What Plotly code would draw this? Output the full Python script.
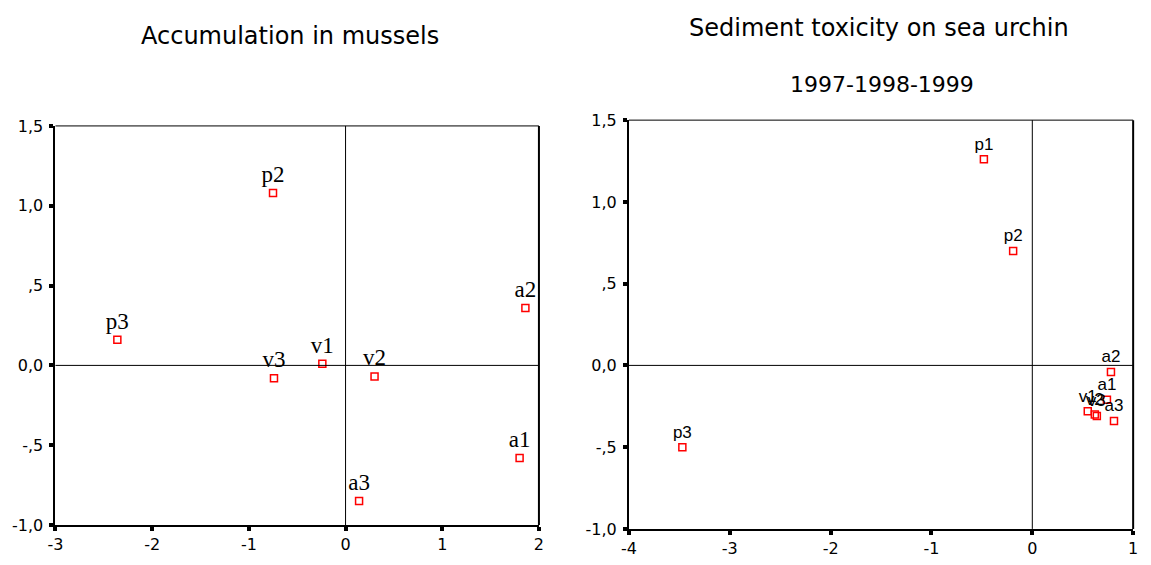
import plotly.graph_objects as go

W, H = 1151, 565

# Left panel: accumulation in mussels
mus_labels = ["p2", "p3", "v3", "v1", "v2", "a2", "a1", "a3"]
mus_x = [-0.75, -2.36, -0.74, -0.24, 0.30, 1.86, 1.80, 0.14]
mus_y = [1.08, 0.16, -0.08, 0.01, -0.07, 0.36, -0.58, -0.85]

# Right panel: sediment toxicity on sea urchin
urc_labels = ["p1", "p2", "a2", "a1", "a3", "v1", "v2", "v3", "p3"]
urc_x = [-0.48, -0.19, 0.78, 0.74, 0.81, 0.55, 0.62, 0.64, -3.47]
urc_y = [1.26, 0.70, -0.04, -0.21, -0.34, -0.28, -0.30, -0.31, -0.50]

y_tickvals = [1.5, 1.0, 0.5, 0.0, -0.5, -1.0]
y_ticktext = ["1,5", "1,0", ",5", "0,0", "-,5", "-1,0"]
mus_xticks = [-3, -2, -1, 0, 1, 2]
urc_xticks = [-4, -3, -2, -1, 0, 1]

fig = go.Figure()

fig.add_trace(go.Scatter(
    x=mus_x, y=mus_y, text=mus_labels, mode="markers+text",
    textposition="top center",
    textfont=dict(family="Liberation Serif", size=23, color="black"),
    marker=dict(symbol="square-open", size=7, color="red", line=dict(width=1.5, color="red")),
    xaxis="x", yaxis="y", showlegend=False, cliponaxis=False,
))
fig.add_trace(go.Scatter(
    x=urc_x, y=urc_y, text=urc_labels, mode="markers+text",
    textposition="top center",
    textfont=dict(family="Liberation Sans", size=17, color="black"),
    marker=dict(symbol="square-open", size=7, color="red", line=dict(width=1.5, color="red")),
    xaxis="x2", yaxis="y2", showlegend=False, cliponaxis=False,
))

def px_x(p):
    return p / W

def px_y(p):
    return 1 - p / H

axis_common = dict(
    showgrid=False, zeroline=False, showline=True, linecolor="black", linewidth=2,
    ticks="outside", ticklen=4, tickwidth=4, tickcolor="black",
    tickfont=dict(family="DejaVu Sans", size=16, color="black"),
    fixedrange=True,
)

fig.update_layout(
    width=W, height=H,
    margin=dict(l=0, r=0, t=0, b=0),
    paper_bgcolor="white", plot_bgcolor="white",
    xaxis=dict(domain=[px_x(48), px_x(537)], range=[-3, 2], tickvals=mus_xticks,
               ticktext=[str(v) for v in mus_xticks], anchor="y", **axis_common),
    yaxis=dict(domain=[px_y(534), px_y(121)], range=[-1, 1.5], tickvals=y_tickvals,
               ticktext=y_ticktext, anchor="x", ticklabelstandoff=3, **axis_common),
    xaxis2=dict(domain=[px_x(628), px_x(1138)], range=[-4, 1], tickvals=urc_xticks,
                ticktext=[str(v) for v in urc_xticks], anchor="y2", **axis_common),
    yaxis2=dict(domain=[px_y(538), px_y(115)], range=[-1, 1.5], tickvals=y_tickvals,
                ticktext=y_ticktext, anchor="x2", ticklabelstandoff=3, **axis_common),
)

shapes = []
for xr, yr in [("x", "y"), ("x2", "y2")]:
    # thin top edge and heavier right edge of the frame
    shapes.append(dict(type="line", xref=f"{xr} domain", yref=f"{yr} domain",
                       x0=0, x1=1, y0=1, y1=1, line=dict(color="black", width=1)))
    shapes.append(dict(type="line", xref=f"{xr} domain", yref=f"{yr} domain",
                       x0=1, x1=1, y0=0, y1=1, line=dict(color="black", width=2)))
    # reference lines through the origin
    shapes.append(dict(type="line", xref=f"{xr} domain", yref=yr,
                       x0=0, x1=1, y0=0, y1=0, line=dict(color="black", width=1)))
    shapes.append(dict(type="line", xref=xr, yref=f"{yr} domain",
                       x0=0, x1=0, y0=0, y1=1, line=dict(color="black", width=1)))
fig.update_layout(shapes=shapes)

title_font = dict(family="DejaVu Sans", size=24, color="black")
fig.add_annotation(text="Accumulation in mussels", xref="paper", yref="paper",
                   x=px_x(285), y=px_y(28), xanchor="center", yanchor="middle",
                   showarrow=False, font=title_font)
fig.add_annotation(text="Sediment toxicity on sea urchin", xref="paper", yref="paper",
                   x=px_x(881), y=px_y(20), xanchor="center", yanchor="middle",
                   showarrow=False, font=title_font)
fig.add_annotation(text="1997-1998-1999", xref="paper", yref="paper",
                   x=px_x(884), y=px_y(78), xanchor="center", yanchor="middle",
                   showarrow=False, font=dict(family="DejaVu Sans", size=22, color="black"))

fig.write_html("out.html", config={"displayModeBar": False})
